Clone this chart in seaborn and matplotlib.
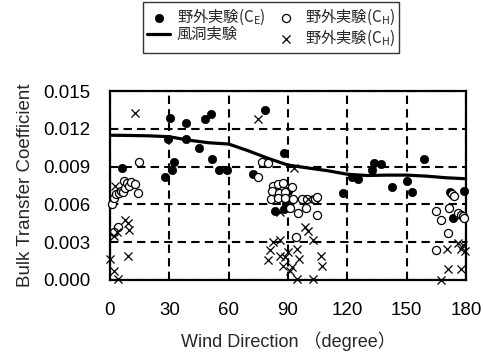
import numpy as np
import pandas as pd
import matplotlib
matplotlib.use("Agg")
import matplotlib.pyplot as plt
import seaborn as sns

# Field experiment C_E (filled circles)
ce_deg = [6.0, 27.9, 29.3, 30.3, 31.6, 32.3, 38.3, 38.3, 44.9, 48.0, 51.3, 51.8, 54.9, 59.1,
          72.2, 78.3, 83.2, 88.2, 89.0, 90.2, 88.0, 117.9, 122.5, 125.5, 132.3, 133.5, 137.2,
          142.8, 150.1, 152.8, 158.9, 171.9, 173.6, 179.0]
ce_val = [0.0089, 0.0082, 0.0112, 0.0129, 0.0087, 0.0094, 0.0125, 0.0112, 0.0105, 0.0128, 0.0132,
          0.0096, 0.0087, 0.0087, 0.0084, 0.0135, 0.0055, 0.0101, 0.0060, 0.0071, 0.0056, 0.0069,
          0.0082, 0.0080, 0.0087, 0.0093, 0.0092, 0.0074, 0.0079, 0.0070, 0.0096, 0.0070, 0.0049,
          0.0071]

# Field experiment C_H (open circles)
ch_deg = [0.9, 2.0, 3.0, 4.4, 5.4, 6.7, 7.0, 7.7, 8.4, 9.7, 10.5, 12.6, 14.4, 14.8, 3.9, 2.2,
          74.7, 76.7, 79.7,
          82.6, 85.1, 87.6, 91.8, 81.8, 85.7, 88.5, 81.2, 85.1, 88.5, 92.7, 97.0, 99.8, 103.7,
          104.9, 90.9, 95.1, 99.0, 104.9, 94.1,
          165.0, 167.3, 170.7, 171.5, 173.0, 174.2, 176.1, 177.5, 178.6, 179.0, 164.9]
ch_val = [0.0060, 0.0065, 0.0068, 0.0069, 0.0071, 0.0070, 0.0079, 0.0073, 0.0077, 0.0075, 0.0078,
          0.0076, 0.0069, 0.0094, 0.0042, 0.0038,
          0.0082, 0.0094, 0.0093,
          0.0075, 0.0076, 0.0077, 0.0074, 0.0071, 0.0069, 0.0070, 0.0064, 0.0065, 0.0065, 0.0064,
          0.0064, 0.0064, 0.0064, 0.0066, 0.0057, 0.0053, 0.0057, 0.0052, 0.0034,
          0.0055, 0.0048, 0.0037, 0.0057, 0.0068, 0.0067, 0.0053, 0.0052, 0.0051, 0.0049, 0.0024]

# Field experiment C_H (crosses)
cx_deg = [12.6, 74.6, 2.5, 93.0,
          7.6, 9.3, 9.6, 3.4, 2.2, 0.0, 9.3, 2.2, 4.2,
          86.0, 100.3, 98.6, 100.3, 102.9, 82.6, 86.0, 81.0, 86.0, 80.1, 90.2, 94.4, 95.8,
          87.6, 91.8, 91.0, 94.4, 102.9, 106.5, 107.1, 88.5,
          170.2, 175.8, 177.5, 179.5, 170.7, 177.5, 167.3, 178.5]
cx_val = [0.01325, 0.01275, 0.0075, 0.0089,
          0.0048, 0.0045, 0.0040, 0.0038, 0.0035, 0.0017, 0.0019, 0.0007, 0.0001,
          0.0054, 0.0064, 0.0042, 0.0039, 0.0032, 0.0030, 0.0032, 0.0024, 0.0019, 0.0016, 0.0022,
          0.0025, 0.0017, 0.0011, 0.0010, 0.0007, 0.0001, 0.0001, 0.0019, 0.0011, 0.0018,
          0.0025, 0.0029, 0.0025, 0.0023, 0.0009, 0.0009, 0.0000, 0.0028]

# Wind tunnel experiment (line)
wt_deg = [0, 10, 20, 30, 40, 50, 60, 70, 80, 90, 100, 110, 120, 130, 140, 150, 160, 170, 180]
wt_val = [0.0115, 0.01148, 0.01145, 0.01138, 0.0111, 0.0109, 0.0108, 0.01026, 0.00966, 0.00913,
          0.0089, 0.00868, 0.0084, 0.0083, 0.00833, 0.00833, 0.00825, 0.00812, 0.00804]

x_ticks = [0, 30, 60, 90, 120, 150, 180]
y_ticks = [0.000, 0.003, 0.006, 0.009, 0.012, 0.015]

labels = ["$\\mathrm{野外実験(C_E)}$", "風洞実験", "$\\mathrm{野外実験(C_H)}$",
          "$\\mathrm{野外実験(C_H)}$"]

sns.set_style("white")
plt.rcParams['font.family'] = ['Liberation Sans', 'Noto Sans CJK JP', 'DejaVu Sans']
plt.rcParams['mathtext.fontset'] = 'custom'
plt.rcParams['mathtext.rm'] = 'Noto Sans CJK JP'
plt.rcParams['mathtext.it'] = 'Noto Sans CJK JP'
plt.rcParams['mathtext.bf'] = 'Noto Sans CJK JP'

fig = plt.figure(figsize=(4.83, 3.53), dpi=100)
ax = fig.add_axes([0.2277, 0.2068, 0.737, 0.535])

df_ce = pd.DataFrame({"deg": ce_deg, "val": ce_val})
df_ch = pd.DataFrame({"deg": ch_deg, "val": ch_val})
df_cx = pd.DataFrame({"deg": cx_deg, "val": cx_val})
df_wt = pd.DataFrame({"deg": wt_deg, "val": wt_val})

sns.scatterplot(data=df_ce, x="deg", y="val", ax=ax, color="black", marker="o", s=36,
                edgecolor="black", linewidth=0.5, label=labels[0], clip_on=False, zorder=4)
sns.lineplot(data=df_wt, x="deg", y="val", ax=ax, color="black", linewidth=2.3,
             label=labels[1], zorder=3)
sns.scatterplot(data=df_ch, x="deg", y="val", ax=ax, marker="o", s=34, facecolor="white",
                edgecolor="black", linewidth=0.9, label=labels[2], clip_on=False, zorder=4)
sns.scatterplot(data=df_cx, x="deg", y="val", ax=ax, marker="x", s=34, color="black",
                linewidth=0.9, label=labels[3], clip_on=False, zorder=4)

ax.set_xlim(0, 180)
ax.set_ylim(0, 0.015)
ax.set_xticks(x_ticks)
ax.set_yticks(y_ticks)
ax.set_yticklabels([f"{v:.3f}" for v in y_ticks])
ax.tick_params(axis='both', labelsize=13.5, colors='black', length=0)
ax.tick_params(axis='y', pad=14)
ax.tick_params(axis='x', pad=16)
ax.grid(True, color='black', linestyle=(0, (4, 2.5)), linewidth=1.5)
for sp in ax.spines.values():
    sp.set_color('black')
    sp.set_linewidth(1.6)
ax.set_xlabel("Wind Direction （degree）", fontsize=13, labelpad=9)
ax.set_ylabel("Bulk Transfer Coefficient", fontsize=13.5, labelpad=7)

handles, labs = ax.get_legend_handles_labels()
ax.legend(handles, labs, ncol=2, loc='upper center', bbox_to_anchor=(0.561, 0.994),
          bbox_transform=fig.transFigure, frameon=True, fancybox=False, edgecolor='black',
          fontsize=11, handlelength=1.5, columnspacing=0.6, borderpad=0.3, labelspacing=0.05,
          handletextpad=0.45, borderaxespad=0)
leg = ax.get_legend()
leg.get_frame().set_linewidth(1.0)

fig.savefig("out.png", dpi=100)
